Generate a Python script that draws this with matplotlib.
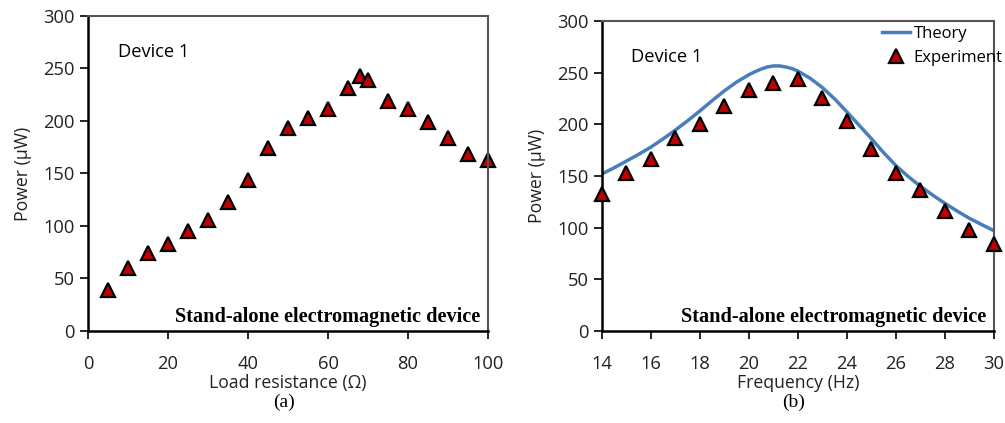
import matplotlib
matplotlib.use("Agg")
import matplotlib.pyplot as plt

# (a) power vs load resistance
res_ohm = [5, 10, 15, 20, 25, 30, 35, 40, 45, 50, 55, 60, 65, 68, 70, 75, 80, 85, 90, 95, 100]
res_power = [39, 60, 74, 83, 95, 106, 123, 144, 174, 193, 203, 211, 231, 243, 239, 219, 211, 199, 184, 169, 163]

# (b) power vs frequency
freq_exp = [14, 15, 16, 17, 18, 19, 20, 21, 22, 23, 24, 25, 26, 27, 28, 29, 30]
power_exp = [133, 153, 166, 187, 200, 218, 233, 240, 244, 225, 203, 176, 153, 136, 116, 98, 84]

freq_theory = [14, 14.5, 15, 15.5, 16, 16.5, 17, 17.5, 18, 18.5, 19, 19.5, 20, 20.25, 20.5, 20.75,
               21, 21.25, 21.5, 21.75, 22, 22.5, 23, 23.5, 24, 24.5, 25, 25.5, 26, 26.5, 27,
               27.5, 28, 28.5, 29, 29.5, 30]
power_theory = [152, 158, 164.5, 171, 178, 186, 194.5, 203.5, 213, 223, 232.5, 241, 248, 251, 253.5, 255.5,
                256.5, 256.5, 255.5, 254, 251.5, 244.5, 235.5, 224.5, 212, 199, 186, 172.5, 160, 149.5, 140,
                131.5, 123.5, 116, 109, 103, 97]

plt.rcParams["font.family"] = ["Open Sans", "DejaVu Sans"]
plt.rcParams["font.size"] = 12.7

red = "#C00000"
blue = "#4A7EBB"
serif = "Liberation Serif"


def style_axes(ax):
    for side in ("left", "bottom"):
        ax.spines[side].set_color("black")
        ax.spines[side].set_linewidth(1.8)
    for side in ("top", "right"):
        ax.spines[side].set_color("#555555")
        ax.spines[side].set_linewidth(1.5)
    ax.tick_params(direction="out", length=6, width=1.2, colors="black",
                   labelcolor="#222222", labelsize=13.2)
    ax.tick_params(axis="x", pad=11)
    ax.set_ylim(0, 300)
    ax.set_yticks(range(0, 301, 50))
    ax.set_ylabel("Power (\u00b5W)", color="#222222", labelpad=8)


fig = plt.figure(figsize=(10.05, 4.23), dpi=100)

ax1 = fig.add_axes([0.0876, 0.2175, 0.398, 0.7447])
ax1.plot(res_ohm, res_power, linestyle="none", marker="^", markersize=10,
         markerfacecolor=red, markeredgecolor="black", markeredgewidth=1.6, clip_on=False)
style_axes(ax1)
ax1.set_xlim(0, 100)
ax1.set_xticks(range(0, 101, 20))
ax1.set_xlabel("Load resistance (\u03a9)", color="#222222", labelpad=1)
ax1.text(0.075, 0.885, "Device 1", transform=ax1.transAxes, fontsize=13.2, va="center")
ax1.text(0.98, 0.045, "Stand-alone electromagnetic device", transform=ax1.transAxes,
         family=serif, weight="bold", fontsize=14.6, ha="right", va="center")
ax1.text(0.49, -0.225, "(a)", transform=ax1.transAxes, family=serif, fontsize=14,
         ha="center", va="center")

ax2 = fig.add_axes([0.599, 0.2175, 0.390, 0.7329])
ax2.plot(freq_theory, power_theory, color=blue, linewidth=2.5, label="Theory", zorder=2)
ax2.plot(freq_exp, power_exp, linestyle="none", marker="^", markersize=10,
         markerfacecolor=red, markeredgecolor="black", markeredgewidth=1.6,
         label="Experiment", clip_on=False, zorder=3)
style_axes(ax2)
ax2.set_xlim(14, 30)
ax2.set_xticks(range(14, 31, 2))
ax2.set_xlabel("Frequency (Hz)", color="#222222", labelpad=1)
ax2.text(0.075, 0.885, "Device 1", transform=ax2.transAxes, fontsize=13.2, va="center")
ax2.text(0.98, 0.045, "Stand-alone electromagnetic device", transform=ax2.transAxes,
         family=serif, weight="bold", fontsize=14.6, ha="right", va="center")
ax2.text(0.49, -0.23, "(b)", transform=ax2.transAxes, family=serif, fontsize=14,
         ha="center", va="center")
ax2.legend(loc="upper right", bbox_to_anchor=(1.048, 1.015), frameon=False, fontsize=12,
           handlelength=1.7, handletextpad=0.2, labelspacing=0.45, borderaxespad=0.2)

fig.savefig("out.png", dpi=100)
